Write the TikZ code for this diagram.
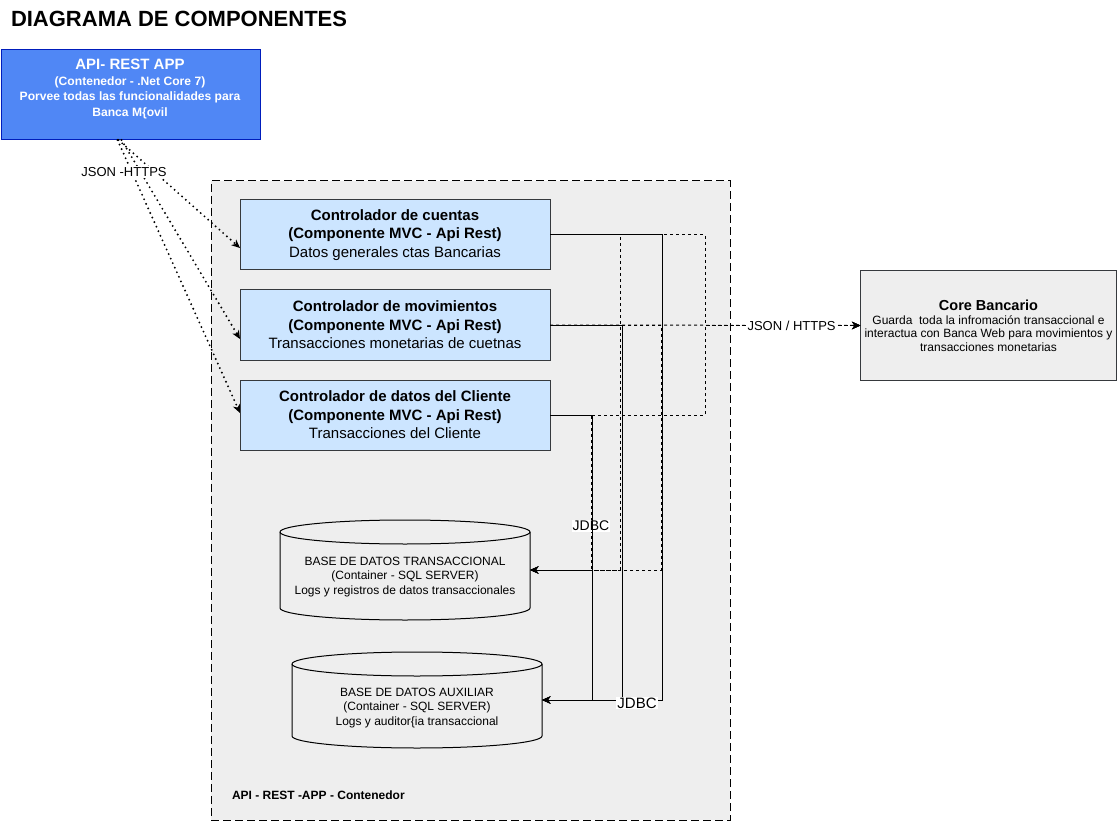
\documentclass[tikz,border=0pt]{standalone}
\usepackage{fontspec}
\setmainfont{Liberation Sans}
\usetikzlibrary{arrows.meta}
\definecolor{apiblue}{RGB}{80,135,245}
\definecolor{apiborder}{RGB}{0,29,188}
\definecolor{ctrlfill}{RGB}{204,229,255}
\definecolor{boxborder}{RGB}{54,57,61}
\definecolor{contfill}{RGB}{238,238,238}
\newcommand{\myfs}[2]{\fontsize{#1}{#2}\selectfont}
\begin{document}
\begin{tikzpicture}[x=1pt,y=-1pt,
  every node/.style={inner sep=0pt, outer sep=0pt},
  ctrl/.style={draw=boxborder, fill=ctrlfill, line width=1pt, minimum width=310pt, minimum height=70pt, align=center, font=\myfs{15}{18.5}},
  contbox/.style={draw=black, line width=1pt, dash pattern=on 8pt off 4pt, fill=contfill, minimum width=519pt, minimum height=639pt},
  corebox/.style={draw=boxborder, fill=contfill, line width=1pt, minimum width=256pt, minimum height=110pt},
  dbbox/.style={minimum width=250pt},
  dbtext/.style={align=center, font=\myfs{12}{14.5}},
  tip/.style={-{Stealth[length=8.5pt,width=7.5pt,inset=2.5pt]}},
  dotarrow/.style={tip, line width=2.1pt, dash pattern=on 0pt off 5pt, line cap=round},
  dashedge/.style={tip, line width=1pt, dash pattern=on 3pt off 3pt},
  solidedge/.style={tip, line width=1pt},
  lbl/.style={fill=white, inner sep=1pt},
]
\useasboundingbox (0,0) rectangle (1117,821);

% title
\node[anchor=west, font=\myfs{22}{26}\bfseries] (title) at (11,19) {DIAGRAMA DE COMPONENTES};

% API box
\node[draw=apiborder, fill=apiblue, line width=1pt, minimum width=259pt, minimum height=90pt] (api) at (130.5,95) {};
\node[text=white, font=\myfs{12.1}{15.5}\bfseries, align=center] (apitext) at (130,89)
  {{\myfs{15}{18}API- REST APP}\\(Contenedor - .Net Core 7)\\Porvee todas las funcionalidades para\\Banca M\{ovil};

% container
\node[contbox] (cont) at (470.5,500.5) {};
\node[anchor=west, font=\myfs{12}{14}\bfseries] (contlabel) at (232,795) {API - REST -APP - Contenedor};

% controllers
\node[ctrl] (c1) at (395,235) {\textbf{Controlador de cuentas}\\\textbf{(Componente MVC - Api Rest)}\\Datos generales ctas Bancarias};
\node[ctrl] (c2) at (395,325) {\textbf{Controlador de movimientos}\\\textbf{(Componente MVC - Api Rest)}\\Transacciones monetarias de cuetnas};
\node[ctrl] (c3) at (395,415) {\textbf{Controlador de datos del Cliente}\\\textbf{(Componente MVC - Api Rest)}\\Transacciones del Cliente};

% core bancario
\node[corebox] (core) at (988.5,325.5) {};
\node[align=center, font=\myfs{12}{13.5}] (coretext) at (988.5,326)
  {{\myfs{14.5}{18}\bfseries Core Bancario}\\Guarda\ \ toda la infromación transaccional e\\interactua con Banca Web para movimientos y\\transacciones monetarias};

% databases
\node[dbbox, minimum height=100pt] (db1) at (405,570) {};
\node[dbbox, minimum height=96pt] (db2) at (417,700) {};
\foreach \d in {db1,db2}{
  \draw[line width=1pt, fill=contfill] ([yshift=-12pt]\d.north west) -- ([yshift=12pt]\d.south west)
    arc[start angle=180, end angle=360, x radius=125pt, y radius=12pt]
    -- ([yshift=-12pt]\d.north east)
    arc[start angle=0, end angle=180, x radius=125pt, y radius=12pt] -- cycle;
  \draw[line width=1pt] ([yshift=-12pt]\d.north west)
    arc[start angle=180, end angle=360, x radius=125pt, y radius=12pt];
}
\node[dbtext] (db1text) at (405,577) {BASE DE DATOS TRANSACCIONAL\\(Container - SQL SERVER)\\Logs y registros de datos transaccionales};
\node[dbtext] (db2text) at (417,708) {BASE DE DATOS AUXILIAR\\(Container - SQL SERVER)\\Logs y auditor\{ia transaccional};

% dotted arrows from API
\draw[dotarrow] ([xshift=-12pt]api.south) -- ([yshift=-13pt]c1.west);
\draw[dotarrow] ([xshift=-9pt]api.south) -- ([yshift=-14pt]c2.west);
\draw[dotarrow] ([xshift=-13pt]api.south) -- ([yshift=2pt]c3.west);
\node[lbl, font=\myfs{13}{15}] (jsonlbl) at (124,172) {JSON -HTTPS};

% dashed edges to core bancario
\draw[dashedge] (c1.east) -- ++(155,0) |- (core.west);
\draw[dashedge] (c3.east) -- ++(155,0) |- (core.west);
\draw[dashedge] (c2.east) -- node[lbl, pos=0.778, font=\myfs{13}{15}] (httpslbl) {JSON / HTTPS} (core.west);

% dashed edges to db1
\draw[dashedge] (c1.east) -- ++(70,0) |- (db1.east);
\draw[dashedge] (c2.east) -- ++(111,0) |- (db1.east);
\draw[dashedge] (c3.east) -- ++(41,0) |- node[lbl, pos=0.358, font=\myfs{14}{16}] (jdbc1) {JDBC} (db1.east);

% solid edges to db2
\draw[solidedge] (c2.east) -- ++(72,0) |- (db2.east);
\draw[solidedge] (c3.east) -- ++(42,0) |- (db2.east);
\draw[solidedge] (c1.east) -- ++(112,0) |- node[lbl, pos=0.604, yshift=-3pt, font=\myfs{15}{17}] (jdbc2) {JDBC} (db2.east);
\end{tikzpicture}
\end{document}
